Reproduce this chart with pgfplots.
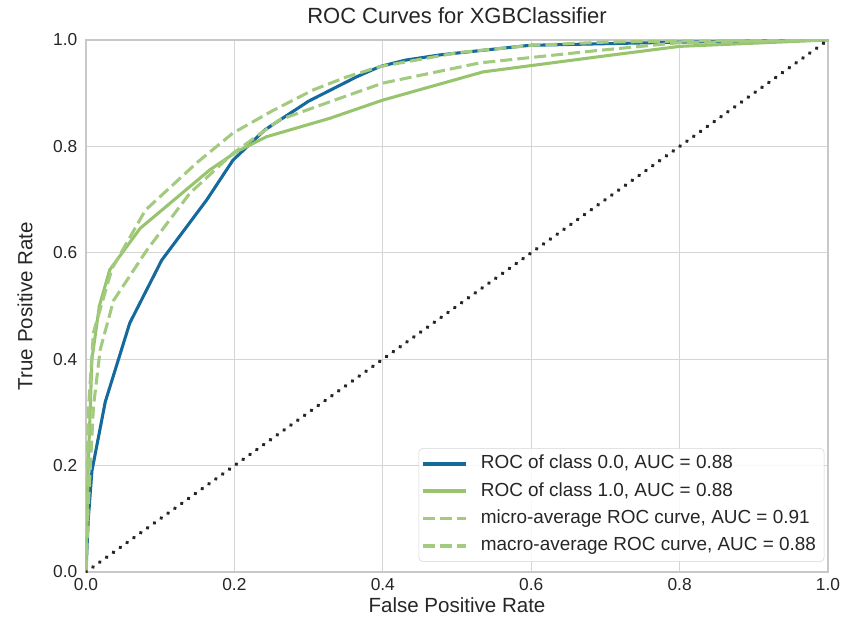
\documentclass[border=0pt]{standalone}
\usepackage{pgfplots}
\pgfplotsset{compat=1.18}
\usepackage{fontspec}
\setmainfont{Liberation Sans}
\definecolor{rocblue}{HTML}{15699C}
\definecolor{rocgreen}{HTML}{98C46E}
\definecolor{avggreen}{HTML}{A3CB80}
\definecolor{gridgray}{HTML}{D5D5D5}
\definecolor{framegray}{HTML}{C8C8C8}
\definecolor{textgray}{HTML}{262626}

% ROC points, fpr / tpr
\pgfplotstableread{
x y
0 0
0.003 0.098
0.008 0.19
0.026 0.32
0.059 0.468
0.102 0.586
0.163 0.70
0.198 0.774
0.241 0.831
0.30 0.885
0.365 0.931
0.396 0.95
0.43 0.962
0.477 0.972
0.598 0.99
0.8 0.996
1 1
}\classzero
\pgfplotstableread{
x y
0 0
0.003 0.198
0.008 0.40
0.018 0.50
0.032 0.568
0.073 0.646
0.167 0.756
0.203 0.79
0.243 0.818
0.329 0.853
0.40 0.887
0.535 0.94
0.688 0.968
0.8 0.988
1 1
}\classone
\pgfplotstableread{
x y
0 0
0.003 0.30
0.01 0.45
0.035 0.57
0.08 0.68
0.15 0.77
0.198 0.825
0.25 0.866
0.306 0.906
0.35 0.93
0.396 0.95
0.5 0.976
0.6 0.99
0.7 0.996
0.8 0.998
1 1
}\microavg
\pgfplotstableread{
x y
0 0
0.003 0.12
0.01 0.31
0.019 0.417
0.037 0.51
0.082 0.605
0.14 0.712
0.198 0.787
0.261 0.85
0.329 0.884
0.40 0.919
0.531 0.957
0.688 0.98
0.8 0.995
1 1
}\macroavg

\begin{document}
\begin{tikzpicture}
% fixed page frame around the axis box
\path[use as bounding box] (-64.5pt,-41.25pt) rectangle (571.5pt,429pt);
\begin{axis}[
  at={(0,0)}, anchor=south west,
  scale only axis,
  width=556.5pt, height=399pt,
  xmin=0, xmax=1, ymin=0, ymax=1,
  xtick={0,0.2,...,1}, ytick={0,0.2,...,1},
  /pgf/number format/.cd, fixed, fixed zerofill, precision=1, assume math mode=true,
  /pgfplots/.cd,
  grid=major,
  major grid style={gridgray, line width=0.8pt},
  axis line style={framegray, line width=1.5pt},
  tick style={draw=none},
  ticklabel style={font=\fontsize{13pt}{15pt}\selectfont, text=textgray},
  xticklabel style={yshift=-1pt},
  yticklabel style={xshift=-3pt},
  title={ROC Curves for XGBClassifier},
  every axis title shift=0pt,
  title style={font=\fontsize{16.5pt}{18pt}\selectfont, text=textgray,
    at={(axis description cs:0.5,1.045)}, anchor=center},
  xlabel={False Positive Rate},
  ylabel={True Positive Rate},
  label style={font=\fontsize{15.4pt}{17pt}\selectfont, text=textgray},
  xlabel style={at={(axis description cs:0.5,-0.062)}, anchor=center},
  ylabel style={at={(axis description cs:-0.0822,0.5)}, anchor=center, rotate=0},
  legend style={
    font=\fontsize{14.2pt}{17pt}\selectfont, text=textgray,
    draw=gridgray, rounded corners=3pt,
    fill=white, fill opacity=0.85, text opacity=1,
    at={(0.995,0.019)}, anchor=south east,
    inner xsep=2pt, inner ysep=3pt,
    row sep=3pt,
    nodes={inner ysep=2pt, inner xsep=4pt, text height=10.5pt, text depth=3pt},
  },
  legend cell align=left,
  legend image code/.code={%
    \draw[#1, rounded corners=0pt, line width=2.7pt] (0pt,0pt) -- (32pt,0pt);
    \path (38pt,0pt);},
]
\addplot[rocblue, line width=2.3pt, line join=round] table {\classzero};
\addlegendentry{ROC of class 0.0, AUC = 0.88}
\addplot[rocgreen, line width=2.3pt, line join=round] table {\classone};
\addlegendentry{ROC of class 1.0, AUC = 0.88}
\addplot[avggreen, line width=2.3pt, dash pattern=on 9pt off 3.8pt, line join=round] table {\microavg};
\addlegendentry{micro-average ROC curve, AUC = 0.91}
\addplot[avggreen, line width=2.3pt, dash pattern=on 9pt off 3.8pt, line join=round] table {\macroavg};
\addlegendentry{macro-average ROC curve, AUC = 0.88}
\addplot[black!85, line width=2.8pt, dash pattern=on 0.3pt off 6pt, line cap=round, forget plot] coordinates {(0,0) (1,1)};
\end{axis}
\end{tikzpicture}
\end{document}
